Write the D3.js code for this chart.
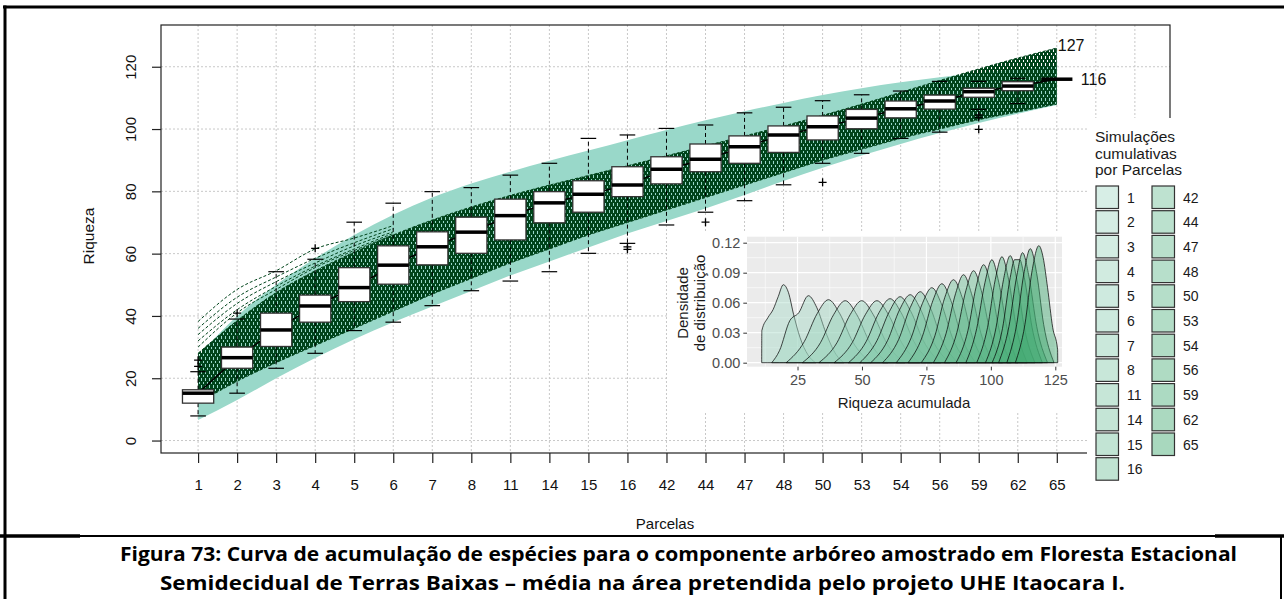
<!DOCTYPE html>
<html><head><meta charset="utf-8">
<script src="https://cdn.jsdelivr.net/npm/d3@7"></script>
<style>body{margin:0;background:#fff}svg{display:block}</style>
</head><body><svg id="c" width="1284" height="599"></svg>
<script>
// ---------------- DATA ----------------
const categories = ["1","2","3","4","5","6","7","8","11","14","15","16","42","44","47","48","50","53","54","56","59","62","65"];
const boxLow  = [7.9,15.2,23.2,28.0,35.3,38.0,43.3,48.1,51.2,54.2,60.1,63.3,69.2,73.3,77.0,82.1,89.0,92.2,97.0,99.0,106.3,108.2,116];
const boxQ1   = [12.0,23.2,30.2,38.0,44.6,50.2,56.4,60.1,64.4,69.9,73.3,78.3,82.4,86.3,89.0,92.5,96.5,100.1,103.6,106.4,110.2,112.3,116];
const boxMed  = [15.2,26.6,35.5,43.2,49.1,56.3,62.2,66.9,72.2,76.3,79.1,82.0,87.1,90.3,94.3,98.1,100.7,103.5,106.5,109.0,112.0,113.8,116];
const boxQ3   = [16.3,30.0,40.9,46.7,55.5,62.5,67.0,71.7,77.5,79.9,83.4,87.9,91.1,95.2,97.8,101.0,104.2,106.3,109.0,110.9,113.1,115.2,116];
const boxHigh = [22.1,39.0,54.2,58.2,70.1,76.2,79.9,81.2,85.2,89.0,97.0,98.1,100.2,101.3,105.2,107.0,109.1,111.0,112.2,115.3,115.3,116.3,116];
const outliers = [[23.8,25.8],[40.9],[],[61.7],[],[],[],[],[],[],[],[62.2,61.4],[],[70.1],[],[],[82.9],[],[],[],[104.5,103.7,99.9],[],[]];
const ribbonLow  = [6.6,13,20,26.5,32.5,38,43,48,53,57.5,62,66.5,70.5,74.5,78.8,83.3,87.6,91.5,95.2,98.7,101.9,104.9,107.7];
const ribbonHigh = [27,40,50,58.5,66,72.5,78,82.5,86.3,89.8,93.1,96.4,99.7,102.8,105.7,108.4,110.9,113.1,115.0,116.6,118.0,119.2,120.2];
const simLow  = [12,19,25,30.5,36,41.5,47,52,57,61.5,66,70,74,78,82,86,90,93.5,97,100,103,105.5,108];
const simHigh = [28,38.5,47.5,54.5,60.5,66,70.8,75,78.7,82,85.1,88.2,91.4,94.6,97.8,101,104.4,108,111.8,115.6,119.3,122.8,126];
const simEarly = [
  [38.2,48.5,54.5,61.5,65,69],
  [36,46,52.5,58.5,63.5,68],
  [34,44,51,57,62.5,67],
  [32,42,49.5,56,61.5,66.5],
  [30,41,48.5,55.5,61,66]
];
const yTicks = [0,20,40,60,80,100,120];
const maxLabel = 127, finalLabel = 116;

// inset densities (x = riqueza acumulada, y = densidade)
const densX = [
  [11.1,11.15,13.5,15.5,17.5,19.5,21.5,23.5,26,29,32],
  [15,18,22,25.5,29.2,32.5,36,40,43],
  [20.6,27.6,32.6,37,41.4,46.4,53.4],
  [26.9,33.9,39.0,43.5,48.0,53.1,60.1],
  [33.3,40.3,45.4,49.9,54.4,59.5,66.5],
  [39.2,46.2,51.3,55.8,60.3,65.4,72.4],
  [44.8,51.6,56.6,60.9,65.2,70.2,77.0],
  [49.2,55.8,60.6,64.8,69.0,73.8,80.4],
  [53.4,59.9,64.6,68.7,72.8,77.5,84.0],
  [58.0,64.2,68.7,72.6,76.5,81.0,87.2],
  [63.3,69.1,73.4,77.1,80.8,85.1,90.9],
  [67.9,73.4,77.5,81.0,84.5,88.6,94.1],
  [73.0,78.3,82.1,85.5,88.9,92.7,98.0],
  [77.7,82.6,86.3,89.4,92.5,96.2,101.1],
  [82.0,86.8,90.3,93.3,96.3,99.8,104.6],
  [86.5,91.1,94.3,97.2,100.1,103.3,107.9],
  [90.3,94.5,97.7,100.4,103.1,106.3,110.5],
  [94.5,98.7,101.7,104.3,106.9,109.9,114.1],
  [97.9,102.0,104.9,107.5,110.1,113.0,117.1],
  [100.5,104.5,107.5,109.2,111.2,113,116,120],
  [103,107,110,112.3,114.8,117.8,122],
  [106.2,110,112.8,115.3,117.8,120.5,124.5],
  [109.5,113.2,116,118.6,120.3,122,124,125.9,125.95]
];
const densY = [
  [0,0.032,0.045,0.053,0.066,0.078,0.070,0.048,0.025,0.008,0],
  [0,0.012,0.042,0.050,0.067,0.055,0.030,0.008,0],
  [0,.021,.049,.063,.049,.021,0],
  [0,.020,.048,.062,.048,.020,0],
  [0,.020,.048,.062,.048,.020,0],
  [0,.020,.048,.062,.048,.020,0],
  [0,.021,.050,.064,.050,.021,0],
  [0,.022,.051,.066,.051,.022,0],
  [0,.022,.053,.068,.053,.022,0],
  [0,.023,.055,.071,.055,.023,0],
  [0,.025,.059,.075,.059,.025,0],
  [0,.026,.062,.079,.062,.026,0],
  [0,.027,.065,.083,.065,.027,0],
  [0,.029,.069,.088,.069,.029,0],
  [0,.030,.072,.092,.072,.030,0],
  [0,.032,.076,.098,.076,.032,0],
  [0,.034,.080,.103,.080,.034,0],
  [0,.035,.083,.106,.083,.035,0],
  [0,.035,.083,.107,.083,.035,0],
  [0,.034,.085,.103,.103,.085,.035,0],
  [0,.036,.086,.110,.086,.036,0],
  [0,.038,.089,.114,.089,.038,0],
  [0,.038,.092,.117,.105,.075,.035,.013,0]
];
const insetXTicks = [25,50,75,100,125];
const insetXMinor = [12.5,37.5,62.5,87.5,112.5];
const insetYTicks = [0,0.03,0.06,0.09,0.12];
const insetYMinor = [0.015,0.045,0.075,0.105];

const captionLines = [
  "Figura 73: Curva de acumulação de espécies para o componente arbóreo amostrado em Floresta Estacional",
  "Semidecidual de Terras Baixas – média na área pretendida pelo projeto UHE Itaocara I."
];

// ---------------- DRAW ----------------
const svg = d3.select("#c");
const FONT = "Liberation Sans, Arial, sans-serif";
const defs = svg.append("defs");
// dense dashed-line texture: dark with short vertical light gaps
const pat = defs.append("pattern").attr("id","simpat").attr("width",4).attr("height",7)
  .attr("patternUnits","userSpaceOnUse");
[[0,0,1,7],[1,3,1,4],[2,0,1,7],[3,0,1,4],[3,6,1,1]].forEach(r=>
  pat.append("rect").attr("x",r[0]).attr("y",r[1]).attr("width",r[2]).attr("height",r[3]).attr("fill","#00441b"));
defs.append("clipPath").attr("id","plotclip").append("rect")
  .attr("x",161).attr("y",25).attr("width",1009).attr("height",428);

const xs = d3.scaleLinear().domain([0.05,25.9]).range([161,1170]);
const ys = d3.scaleLinear().domain([-4,133.4]).range([453,25]);
const pos = i => xs(i+1);

// grid
const grid = svg.append("g").attr("stroke","#c8c8c8").attr("stroke-width",1).attr("stroke-dasharray","2,2");
d3.range(1,26).forEach(k=>grid.append("line").attr("x1",xs(k)).attr("x2",xs(k)).attr("y1",25).attr("y2",453));
yTicks.forEach(v=>grid.append("line").attr("x1",161).attr("x2",1170).attr("y1",ys(v)).attr("y2",ys(v)));

const plot = svg.append("g").attr("clip-path","url(#plotclip)");
// ribbon
plot.append("path").datum(categories.map((c,i)=>i))
  .attr("d", d3.area().x(i=>pos(i)).y0(i=>ys(ribbonLow[i])).y1(i=>ys(ribbonHigh[i])).curve(d3.curveMonotoneX))
  .attr("fill","#99d8c9");
// simulation band
plot.append("path").datum(categories.map((c,i)=>i))
  .attr("d", d3.area().x(i=>pos(i)).y0(i=>ys(simLow[i])).y1(i=>ys(simHigh[i])).curve(d3.curveMonotoneX))
  .attr("fill","url(#simpat)");
const simLine = arr => d3.line().x((d,i)=>pos(i)).y(d=>ys(d)).curve(d3.curveMonotoneX)(arr);
[simLow, simHigh].concat(simEarly).forEach(a=>
  plot.append("path").attr("d",simLine(a)).attr("fill","none").attr("stroke","#00441b")
    .attr("stroke-width",1).attr("stroke-dasharray","3,2"));

// median connecting line
plot.append("path").attr("d", d3.line().x((d,i)=>pos(i)).y(d=>ys(d))(boxMed))
  .attr("fill","none").attr("stroke","#000").attr("stroke-width",1.5);

// boxes
const bw = 0.8, cw = 0.4;
const bx = plot.append("g");
categories.forEach((c,i)=>{
  const x = pos(i), hb = (xs(1+bw/2)-xs(1)), hc = (xs(1+cw/2)-xs(1));
  bx.append("line").attr("x1",x).attr("x2",x).attr("y1",ys(boxQ3[i])).attr("y2",ys(boxHigh[i]))
    .attr("stroke","#000").attr("stroke-dasharray","4,3").attr("stroke-width",1);
  bx.append("line").attr("x1",x).attr("x2",x).attr("y1",ys(boxQ1[i])).attr("y2",ys(boxLow[i]))
    .attr("stroke","#000").attr("stroke-dasharray","4,3").attr("stroke-width",1);
  [boxHigh[i], boxLow[i]].forEach(v=>bx.append("line").attr("x1",x-hc).attr("x2",x+hc)
    .attr("y1",ys(v)).attr("y2",ys(v)).attr("stroke","#000").attr("stroke-width",1.2));
  bx.append("rect").attr("x",x-hb).attr("width",2*hb).attr("y",ys(boxQ3[i]))
    .attr("height",Math.max(0,ys(boxQ1[i])-ys(boxQ3[i]))).attr("fill","#fff").attr("stroke","#333").attr("stroke-width",1.3);
  bx.append("line").attr("x1",x-hb).attr("x2",x+hb).attr("y1",ys(boxMed[i])).attr("y2",ys(boxMed[i]))
    .attr("stroke","#000").attr("stroke-width",3.5);
  outliers[i].forEach(v=>{
    bx.append("path").attr("d",`M${x-4},${ys(v)}h8M${x},${ys(v)-4}v8`).attr("stroke","#000").attr("stroke-width",1.3);
  });
});

// plot box
svg.append("rect").attr("x",161).attr("y",25).attr("width",1009).attr("height",428)
  .attr("fill","none").attr("stroke","#222").attr("stroke-width",1.2);

// axes
const xAxis = svg.append("g").attr("transform","translate(0,453)")
  .call(d3.axisBottom(xs).tickValues(d3.range(1,24)).tickFormat(k=>categories[k-1]).tickSize(10).tickPadding(16));
xAxis.select(".domain").remove();
xAxis.selectAll("line").attr("stroke","#222").attr("stroke-width",1.2);
xAxis.selectAll("text").attr("font-family",FONT).attr("font-size",15).attr("fill","#111");

const yAxis = svg.append("g").attr("transform","translate(161,0)")
  .call(d3.axisLeft(ys).tickValues(yTicks).tickSize(9));
yAxis.select(".domain").remove();
yAxis.selectAll("line").attr("stroke","#222").attr("stroke-width",1.2);
yAxis.selectAll("text").attr("font-family",FONT).attr("font-size",15).attr("fill","#111")
  .attr("x",null).attr("dy",null).attr("text-anchor","middle").attr("transform","translate(-25.5,0) rotate(-90)");

svg.append("text").attr("transform","translate(94,236) rotate(-90)").attr("text-anchor","middle")
  .attr("font-family",FONT).attr("font-size",15.5).attr("fill","#111").text("Riqueza");
svg.append("text").attr("x",665).attr("y",529).attr("text-anchor","middle")
  .attr("font-family",FONT).attr("font-size",15).attr("fill","#111").text("Parcelas");

// end labels
svg.append("text").attr("x",xs(23)+1).attr("y",ys(maxLabel)+6).attr("font-family",FONT).attr("font-size",16).attr("fill","#111").text(String(maxLabel));
svg.append("text").attr("x",xs(23)+24).attr("y",ys(finalLabel)+6).attr("font-family",FONT).attr("font-size",16).attr("fill","#111").text(String(finalLabel));

// ---------------- INSET ----------------
svg.append("rect").attr("x",668).attr("y",231).attr("width",419).attr("height",182).attr("fill","#fff");
const ix = d3.scaleLinear().domain([5.4,127.6]).range([747,1062]);
const iy = d3.scaleLinear().domain([-0.004,0.126]).range([366.7,236.7]);
svg.append("rect").attr("x",747).attr("y",236.7).attr("width",315).attr("height",130).attr("fill","#ebebeb");
const ig = svg.append("g");
insetXMinor.forEach(v=>ig.append("line").attr("x1",ix(v)).attr("x2",ix(v)).attr("y1",236.7).attr("y2",366.7).attr("stroke","#fff").attr("stroke-width",0.6));
insetYMinor.forEach(v=>ig.append("line").attr("x1",747).attr("x2",1062).attr("y1",iy(v)).attr("y2",iy(v)).attr("stroke","#fff").attr("stroke-width",0.6));
insetXTicks.forEach(v=>ig.append("line").attr("x1",ix(v)).attr("x2",ix(v)).attr("y1",236.7).attr("y2",366.7).attr("stroke","#fff").attr("stroke-width",1.2));
insetYTicks.forEach(v=>ig.append("line").attr("x1",747).attr("x2",1062).attr("y1",iy(v)).attr("y2",iy(v)).attr("stroke","#fff").attr("stroke-width",1.2));

const fillScale = d3.scaleLinear().domain([0,22]).range(["#a6d9c7","#3fa96f"]).interpolate(d3.interpolateRgb);
const dArea = d3.area().x(d=>ix(d[0])).y0(iy(0)).y1(d=>iy(d[1])).curve(d3.curveMonotoneX);
densX.forEach((xsArr,k)=>{
  const pts = xsArr.map((x,j)=>[x,densY[k][j]]);
  ig.append("path").attr("d",dArea(pts)).attr("fill",fillScale(k)).attr("fill-opacity",0.45)
    .attr("stroke","#000").attr("stroke-opacity",0.7).attr("stroke-width",1);
});
const ixa = svg.append("g").attr("transform","translate(0,366.7)")
  .call(d3.axisBottom(ix).tickValues(insetXTicks).tickSize(3.7).tickPadding(4));
ixa.select(".domain").remove();
ixa.selectAll("line").attr("stroke","#333");
ixa.selectAll("text").attr("font-family",FONT).attr("font-size",14.5).attr("fill","#4d4d4d");
const iya = svg.append("g").attr("transform","translate(747,0)")
  .call(d3.axisLeft(iy).tickValues(insetYTicks).tickFormat(d3.format(".2f")).tickSize(3.7).tickPadding(3));
iya.select(".domain").remove();
iya.selectAll("line").attr("stroke","#333");
iya.selectAll("text").attr("font-family",FONT).attr("font-size",14.5).attr("fill","#4d4d4d");
svg.append("text").attr("x",904).attr("y",408).attr("text-anchor","middle").attr("font-family",FONT)
  .attr("font-size",15).attr("fill","#1a1a1a").text("Riqueza acumulada");
const yl = svg.append("text").attr("transform","translate(688,303) rotate(-90)").attr("text-anchor","middle")
  .attr("font-family",FONT).attr("font-size",15).attr("fill","#1a1a1a");
yl.append("tspan").attr("x",0).attr("y",0).text("Densidade");
yl.append("tspan").attr("x",0).attr("y",17).text("de distribuição");

// ---------------- LEGEND ----------------
svg.append("rect").attr("x",1087).attr("y",118).attr("width",197).attr("height",372).attr("fill","#fff");
const lt = svg.append("text").attr("font-family",FONT).attr("font-size",15.5).attr("fill","#1a1a1a");
["Simulações","cumulativas","por Parcelas"].forEach((t,j)=>lt.append("tspan").attr("x",1095).attr("y",142+j*16.7).text(t));
categories.forEach((c,k)=>{
  const col = k<12?0:1, row = k<12?k:k-12;
  const kx = col===0?1096:1152, ky = 186+row*24.7;
  svg.append("rect").attr("x",kx).attr("y",ky).attr("width",22.5).attr("height",22.5)
    .attr("fill","#fff");
  svg.append("rect").attr("x",kx).attr("y",ky).attr("width",22.5).attr("height",22.5)
    .attr("fill",fillScale(k)).attr("fill-opacity",0.45).attr("stroke","#333").attr("stroke-width",1.2);
  svg.append("text").attr("x",kx+31).attr("y",ky+16.5).attr("font-family",FONT).attr("font-size",14)
    .attr("fill","#1a1a1a").text(c);
});

// ---------------- FRAME & CAPTION ----------------
svg.append("line").attr("x1",3).attr("x2",1284).attr("y1",7).attr("y2",7).attr("stroke","#000").attr("stroke-width",3);
svg.append("line").attr("x1",5).attr("x2",5).attr("y1",5.5).attr("y2",599).attr("stroke","#000").attr("stroke-width",3);
svg.append("line").attr("x1",0).attr("x2",1284).attr("y1",536).attr("y2",536).attr("stroke","#000").attr("stroke-width",2);
svg.append("line").attr("x1",0).attr("x2",80).attr("y1",536).attr("y2",536).attr("stroke","#000").attr("stroke-width",3.5);
svg.append("line").attr("x1",1215).attr("x2",1284).attr("y1",536).attr("y2",536).attr("stroke","#000").attr("stroke-width",3.5);
svg.append("line").attr("x1",1281).attr("x2",1281).attr("y1",536).attr("y2",599).attr("stroke","#000").attr("stroke-width",2);
const CAPFONT = "Open Sans, sans-serif";
svg.append("text").attr("x",120).attr("y",561).attr("font-family",CAPFONT).attr("font-weight","bold")
  .attr("font-size",20).attr("textLength",1117).attr("lengthAdjust","spacingAndGlyphs").attr("fill","#000").text(captionLines[0]);
svg.append("text").attr("x",160).attr("y",590).attr("font-family",CAPFONT).attr("font-weight","bold")
  .attr("font-size",20).attr("textLength",965).attr("lengthAdjust","spacingAndGlyphs").attr("fill","#000").text(captionLines[1]);
</script></body></html>
